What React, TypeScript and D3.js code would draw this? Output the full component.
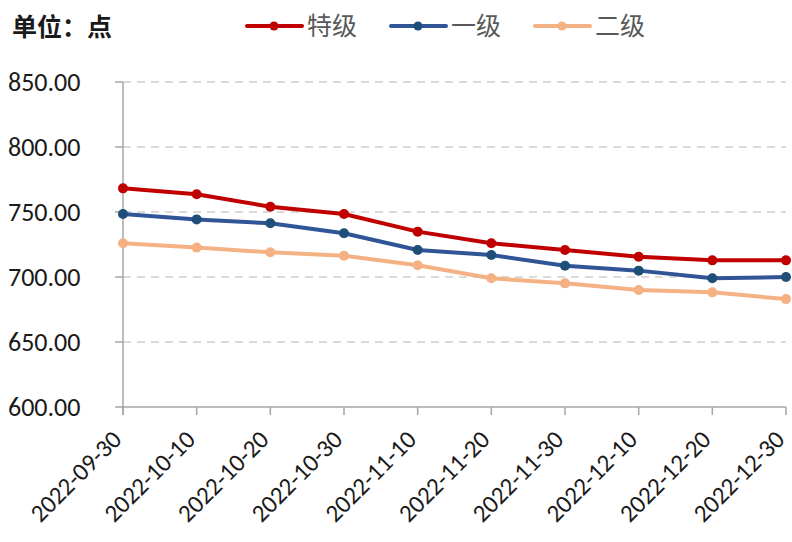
import React from "react";
import * as d3 from "d3";

const categories = [
  "2022-09-30", "2022-10-10", "2022-10-20", "2022-10-30", "2022-11-10",
  "2022-11-20", "2022-11-30", "2022-12-10", "2022-12-20", "2022-12-30",
];
const special = [768.2, 763.6, 754.1, 748.5, 734.9, 726.0, 720.8, 715.6, 712.8, 712.8];
const first = [748.5, 744.3, 741.3, 733.6, 720.8, 716.9, 708.7, 704.9, 699.0, 700.0];
const second = [726.0, 722.6, 719.0, 716.4, 709.0, 699.0, 695.1, 690.0, 688.2, 683.0];
const yTicks = [600, 650, 700, 750, 800, 850];

const seriesList = [
  { name: "特级", values: special, line: "#C00000", marker: "#C00000" },
  { name: "一级", values: first, line: "#2F5597", marker: "#1F4E79" },
  { name: "二级", values: second, line: "#F4B183", marker: "#F4B183" },
];

const W = 792;
const H = 542;
const left = 123;
const right = 786;
const top = 82;
const bottom = 407;

const numFont = "Carlito, Calibri, 'Liberation Sans', sans-serif";
const cjkFont = "'Noto Sans CJK SC', sans-serif";

export default function App() {
  const x = d3.scalePoint<string>().domain(categories).range([left, right]);
  const y = d3.scaleLinear().domain([600, 850]).range([bottom, top]);
  const line = d3
    .line<number>()
    .x((_, i) => x(categories[i]) as number)
    .y((d) => y(d));

  const legendX = [247, 391, 535];

  return (
    <svg
      width={W}
      height={H}
      style={{ position: "absolute", left: 0, top: 0, background: "#fff" }}
    >
      <text x={12} y={36} fontFamily={cjkFont} fontWeight="bold" fontSize={25} fill="#1a1a1a">
        单位：点
      </text>
      {seriesList.map((s, i) => (
        <g key={s.name}>
          <line
            x1={legendX[i]}
            x2={legendX[i] + 55}
            y1={26}
            y2={26}
            stroke={s.line}
            strokeWidth={4}
            strokeLinecap="round"
          />
          <circle cx={legendX[i] + 27} cy={26} r={4.5} fill={s.marker} />
          <text x={legendX[i] + 60} y={35} fontFamily={cjkFont} fontSize={25} fill="#595959">
            {s.name}
          </text>
        </g>
      ))}

      {yTicks.map((t) => (
        <g key={t}>
          {t !== 600 && (
            <line
              x1={left}
              x2={right}
              y1={y(t)}
              y2={y(t)}
              stroke="#D0D0D0"
              strokeWidth={1.5}
              strokeDasharray="8,6"
            />
          )}
          <line x1={115} x2={left} y1={y(t)} y2={y(t)} stroke="#A6A6A6" strokeWidth={1.5} />
          <text
            x={8}
            y={y(t) + 9}
            fontFamily={numFont}
            fontSize={26}
            fill="#1a1a1a"
          >
            {t.toFixed(2)}
          </text>
        </g>
      ))}
      <line x1={left} x2={left} y1={top} y2={bottom + 8} stroke="#A6A6A6" strokeWidth={1.5} />
      <line x1={left} x2={right} y1={bottom} y2={bottom} stroke="#A6A6A6" strokeWidth={1.5} />
      {categories.map((c) => {
        const cx = x(c) as number;
        return (
          <g key={c}>
            <line x1={cx} x2={cx} y1={bottom} y2={bottom + 8} stroke="#A6A6A6" strokeWidth={1.5} />
            <text
              transform={`translate(${cx},${bottom + 34}) rotate(-45)`}
              textAnchor="end"
              fontFamily={numFont}
              fontSize={25}
              fill="#1a1a1a"
            >
              {c}
            </text>
          </g>
        );
      })}

      {seriesList.map((s) => (
        <g key={s.name}>
          <path d={line(s.values) || ""} fill="none" stroke={s.line} strokeWidth={4} strokeLinejoin="round" />
          {s.values.map((v, i) => (
            <circle key={i} cx={x(categories[i]) as number} cy={y(v)} r={5} fill={s.marker} />
          ))}
        </g>
      ))}
    </svg>
  );
}
